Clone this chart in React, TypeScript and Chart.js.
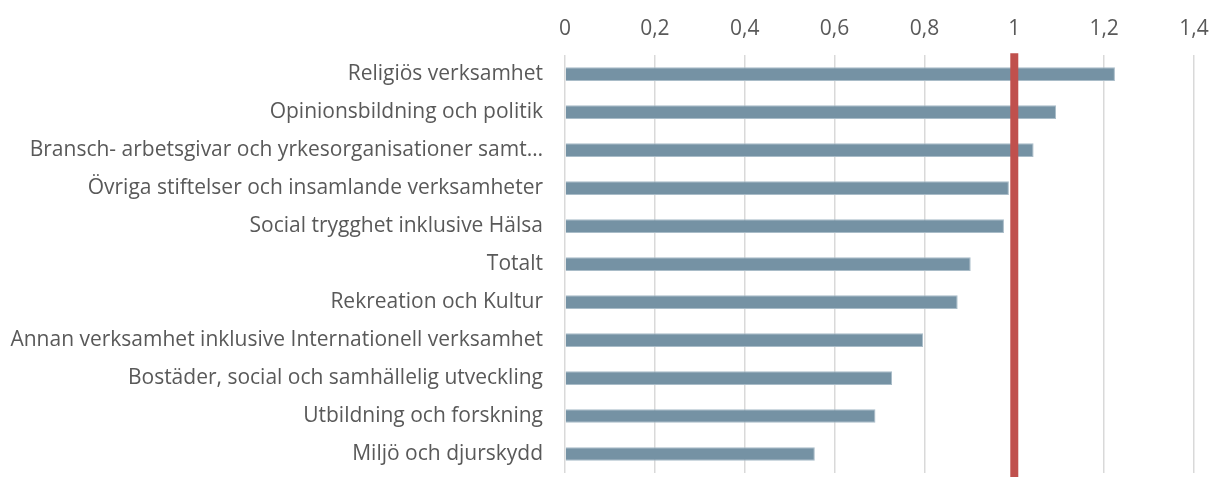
import { useEffect, useRef } from "react";
import { Chart, registerables } from "chart.js";

Chart.register(...registerables);

const categories = [
  "Religiös verksamhet",
  "Opinionsbildning och politik",
  "Bransch- arbetsgivar och yrkesorganisationer samt…",
  "Övriga stiftelser och insamlande verksamheter",
  "Social trygghet inklusive Hälsa",
  "Totalt",
  "Rekreation och Kultur",
  "Annan verksamhet inklusive Internationell verksamhet",
  "Bostäder, social och samhällelig utveckling",
  "Utbildning och forskning",
  "Miljö och djurskydd",
];

const values = [1.224, 1.093, 1.043, 0.988, 0.977, 0.903, 0.874, 0.797, 0.728, 0.691, 0.556];

const referenceValue = 1;

const xTickLabels = ["0", "0,2", "0,4", "0,6", "0,8", "1", "1,2", "1,4"];

const FONT = "'Open Sans', Lato, sans-serif";
const TEXT = "#595959";

const refLinePlugin = {
  id: "refLine",
  afterDatasetsDraw(chart: any) {
    const { ctx, chartArea, scales } = chart;
    const x = scales.x.getPixelForValue(referenceValue);
    ctx.save();
    ctx.strokeStyle = "#C0504D";
    ctx.lineWidth = 8;
    ctx.beginPath();
    ctx.moveTo(x, chartArea.top - 2);
    ctx.lineTo(x, chart.height);
    ctx.stroke();
    ctx.restore();
  },
};

export default function App() {
  const ref = useRef<HTMLCanvasElement>(null);

  useEffect(() => {
    document.body.style.margin = "0";
    const chart = new Chart(ref.current!, {
      type: "bar",
      data: {
        labels: categories,
        datasets: [
          {
            data: values,
            backgroundColor: "#7592A4",
            borderColor: "#A9BCC8",
            borderWidth: 1,
            categoryPercentage: 1,
            barPercentage: 0.36,
          },
        ],
      },
      plugins: [refLinePlugin],
      options: {
        indexAxis: "y",
        animation: false,
        responsive: true,
        maintainAspectRatio: false,
        layout: { padding: { top: 16, right: 16, bottom: 4, left: 0 } },
        plugins: {
          legend: { display: false },
          tooltip: { enabled: false },
        },
        scales: {
          x: {
            position: "top",
            min: 0,
            max: 1.4,
            ticks: {
              stepSize: 0.2,
              padding: 0,
              color: TEXT,
              font: { family: FONT, size: 21 },
              callback: (_v: any, i: number) => xTickLabels[i],
            },
            grid: {
              color: "#D9D9D9",
              lineWidth: 1.5,
              drawTicks: true,
              tickLength: 14,
              tickColor: "rgba(0,0,0,0)",
            },
            border: { display: false },
            afterFit: (s: any) => {
              s.paddingLeft = 0;
              s.paddingRight = 0;
            },
          },
          y: {
            ticks: {
              padding: 0,
              color: TEXT,
              font: { family: FONT, size: 21 },
            },
            grid: {
              display: true,
              drawOnChartArea: false,
              drawTicks: true,
              tickLength: 22,
              color: "rgba(0,0,0,0)",
              tickColor: "rgba(0,0,0,0)",
            },
            border: { display: false },
            afterFit: (s: any) => {
              s.width = 565;
              s.paddingTop = 0;
              s.paddingBottom = 0;
            },
          },
        },
      },
    });
    return () => chart.destroy();
  }, []);

  return (
    <div style={{ width: 1210, height: 477, position: "relative" }}>
      <canvas ref={ref} />
    </div>
  );
}
